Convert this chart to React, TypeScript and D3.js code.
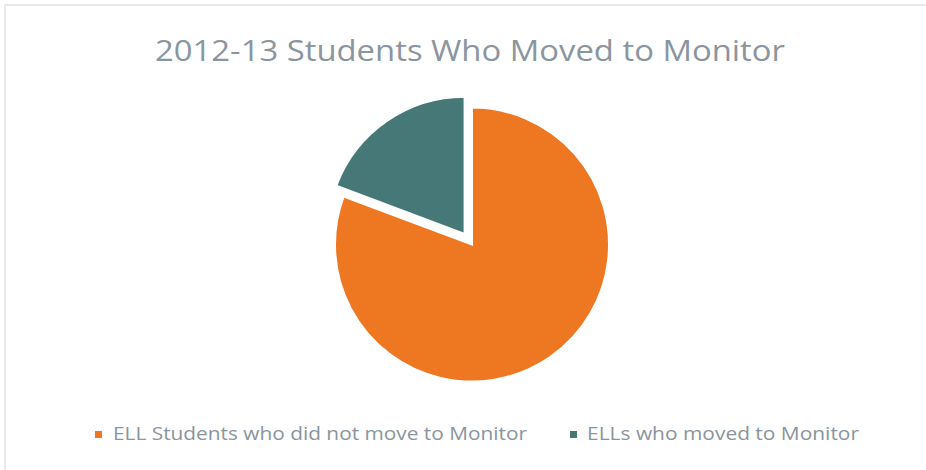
import React from "react";
import * as d3 from "d3";

const title = "2012-13 Students Who Moved to Monitor";
const categories = ["ELL Students who did not move to Monitor", "ELLs who moved to Monitor"];
const values = [80.7, 19.3];
const colors = ["#EE7722", "#467877"];
const explode = [0, 13];

export default function App() {
  const W = 926, H = 470;
  const cx = 472, cy = 244.5, r = 137;
  const pie = d3.pie<number>().sort(null).startAngle(0).endAngle(2 * Math.PI);
  const arcs = pie(values);
  const arc = d3.arc<d3.PieArcDatum<number>>().innerRadius(0).outerRadius(r);
  const textColor = "#8A959E";
  const legendX = [95, 570];
  const legendTextX = [113, 587];
  const legendTextLen = [414, 272];
  return (
    <svg width={W} height={H} style={{ position: "absolute", left: 0, top: 0, background: "#fff" }}>
      <rect x={5} y={5} width={W + 20} height={H + 20} fill="#fff" stroke="#E2E2E2" strokeWidth={1.5} />
      <text x={155} y={61} fontFamily="'Open Sans', sans-serif" fontSize={29.5} fill={textColor}
        textLength={630} lengthAdjust="spacingAndGlyphs">{title}</text>
      <g transform={`translate(${cx},${cy})`}>
        {arcs.map((a, i) => {
          const mid = (a.startAngle + a.endAngle) / 2;
          const dx = Math.sin(mid) * explode[i];
          const dy = -Math.cos(mid) * explode[i];
          return (
            <path key={i} d={arc(a) as string} fill={colors[i]} stroke="#fff" strokeWidth={2}
              transform={`translate(${dx},${dy})`} />
          );
        })}
      </g>
      {categories.map((c, i) => (
        <g key={c}>
          <rect x={legendX[i]} y={431} width={7} height={7} fill={colors[i]} />
          <text x={legendTextX[i]} y={440} fontFamily="'Open Sans', sans-serif" fontSize={18} fill={textColor}
            textLength={legendTextLen[i]} lengthAdjust="spacingAndGlyphs">{c}</text>
        </g>
      ))}
    </svg>
  );
}
